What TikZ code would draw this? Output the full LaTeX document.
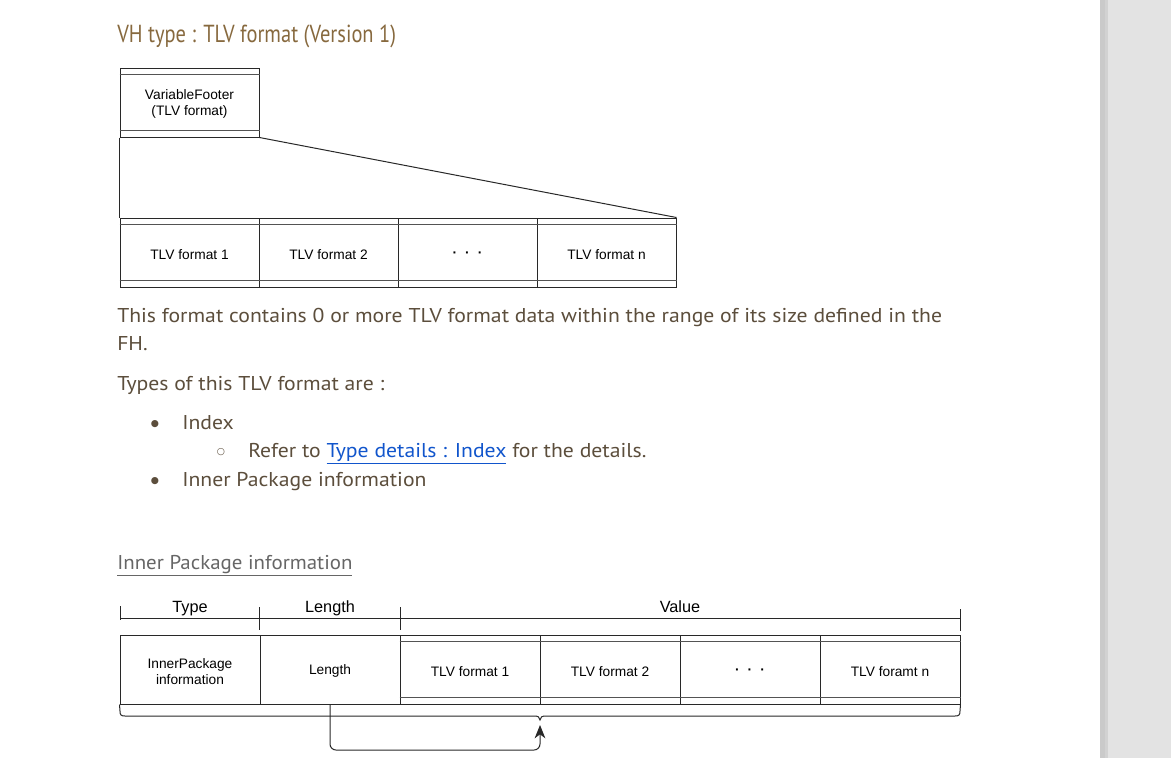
\documentclass[tikz,border=0pt]{standalone}
\usepackage{fontspec}
\usetikzlibrary{arrows.meta}
\newfontfamily\diagfont{Liberation Sans}
\newfontfamily\bodyfont[FakeStretch=1.085]{PT Sans}
\newfontfamily\headfont[FakeStretch=1.045]{PT Sans}
\newfontfamily\titlefont[FakeStretch=0.83]{PT Sans}
\newfontfamily\symfont{DejaVu Sans}
\definecolor{titlecol}{RGB}{135,105,62}
\definecolor{bodycol}{RGB}{92,78,60}
\definecolor{linkcol}{RGB}{17,85,204}
\definecolor{headcol}{RGB}{102,102,102}
\definecolor{panelcol}{RGB}{227,227,227}
\definecolor{stripcol}{RGB}{202,202,202}
\definecolor{linecol}{RGB}{40,40,40}
\newcommand\tdots{\textbf{·}\hspace{6pt}\textbf{·}\hspace{6pt}\textbf{·}}
\begin{document}
\begin{tikzpicture}[x=0.75pt,y=-0.75pt,
  celltext/.style={inner sep=0pt,align=center,font=\diagfont\fontsize{10.3}{12}\selectfont},
  cell/.style={draw=linecol,line width=0.75pt,minimum width=139*0.75pt,minimum height=69*0.75pt,inner sep=0pt,
     label={[celltext,yshift=-1.8*0.75pt]center:#1}},
  cellb/.style={cell={#1},minimum width=140*0.75pt},
  inner/.style={draw=linecol!80,line width=0.75pt},
  rule/.style={draw=linecol,line width=0.75pt},
  lbl/.style={font=\diagfont\fontsize{12.2}{14}\selectfont,inner sep=0pt,anchor=base},
  bodytxt/.style={anchor=base west,inner sep=0pt,text=bodycol,font=\bodyfont\fontsize{15}{17}\selectfont},
  bul/.style={anchor=center,inner sep=0pt,text=bodycol,font=\symfont\fontsize{7}{8}\selectfont}
]
\useasboundingbox (0,0) rectangle (1171,758);
\fill[white] (0,0) rectangle (1171,758);
\fill[panelcol] (1100,0) rectangle (1171,758);
\fill[stripcol] (1100,0) rectangle (1105,758);
\fill[stripcol!70!panelcol] (1105,0) rectangle (1108,758);

% title
\node[anchor=base west,inner sep=0pt,text=titlecol,font=\titlefont\fontsize{18.5}{20}\selectfont] (title) at (117,42) {VH type : TLV format (Version 1)};

% diagram 1
\node[cell={VariableFooter\\(TLV format)}] (vf) at (189.5,102.5) {};
\draw[inner] ([yshift=-7*0.75pt]vf.north west) -- ([yshift=-7*0.75pt]vf.north east);
\draw[inner] ([yshift=7*0.75pt]vf.south west) -- ([yshift=7*0.75pt]vf.south east);

\node[cell={TLV format 1}] (t1) at (189.5,252.5) {};
\node[cell={TLV format 2}] (t2) at (328.5,252.5) {};
\node[cell={\tdots}] (t3) at (467.5,252.5) {};
\node[cell={TLV format n}] (t4) at (606.5,252.5) {};
\draw[inner] ([yshift=-7*0.75pt]t1.north west) -- ([yshift=-7*0.75pt]t4.north east);
\draw[inner] ([yshift=7*0.75pt]t1.south west) -- ([yshift=7*0.75pt]t4.south east);
\draw[rule] (vf.south west) -- (t1.north west);
\draw[rule] (vf.south east) -- (t4.north east);

% text
\node[bodytxt] (p1) at (117,322) {This format contains 0 or more TLV format data within the range of its size defined in the};
\node[bodytxt] (p2) at (117,350) {FH.};
\node[bodytxt] (p3) at (117,390) {Types of this TLV format are :};
\node[bul] (b1) at (155,424) {●};
\node[bodytxt] (i1) at (182,429) {Index};
\node[bul] (b2) at (221,452) {○};
\node[bodytxt] (i2) at (248,457) {Refer to \textcolor{linkcol}{\underline{Type details : Index}} for the details.};
\node[bul] (b3) at (155,481) {●};
\node[bodytxt] (i3) at (182,486) {Inner Package information};
\node[bodytxt,text=headcol,font=\headfont\fontsize{15}{17}\selectfont] (h2) at (117,569) {\underline{Inner Package information}};

% diagram 2 header
\node[lbl] (hty) at (190,612) {Type};
\node[lbl] (hln) at (330,612) {Length};
\node[lbl] (hva) at (680,612) {Value};
\coordinate (hl) at (120,618);
\coordinate (hr) at (960,618);
\draw[rule] (hl) -- (hr);
\draw[rule] (120,606) -- (120,620);
\draw[rule] (259,607) -- (259,630);
\draw[rule] (400,607) -- (400,630);
\draw[rule] (960,609) -- (960,631);

% diagram 2 row
\node[cellb={InnerPackage\\information}] (ty) at (190,669.5) {};
\node[cellb={Length}] (ln) at (330,669.5) {};
\node[cellb={TLV format 1}] (v1) at (470,669.5) {};
\node[cellb={TLV format 2}] (v2) at (610,669.5) {};
\node[cellb={\tdots}] (v3) at (750,669.5) {};
\node[cellb={TLV foramt n}] (v4) at (890,669.5) {};
\draw[inner] ([yshift=-7*0.75pt]v1.north west) -- ([yshift=-7*0.75pt]v4.north east);
\draw[inner] ([yshift=7*0.75pt]v1.south west) -- ([yshift=7*0.75pt]v4.south east);

% brace
\coordinate (brtip) at (540,720);
\draw[rule] (ty.south west) -- (120,711) .. controls (120,715) and (121,716) .. (125,716)
  -- (534,716) .. controls (538,716) and (540,717) .. (brtip)
  .. controls (540,717) and (542,716) .. (546,716)
  -- (955,716) .. controls (959,716) and (960,715) .. (960,711) -- (v4.south east);

% arrow
\coordinate (arrend) at (540,725);
\draw[rule,rounded corners=6*0.75pt,-{Stealth[length=10pt,width=8pt,inset=3pt]}] (ln.south) -- (330,750) -- (540,750) -- (arrend);
\end{tikzpicture}
\end{document}
